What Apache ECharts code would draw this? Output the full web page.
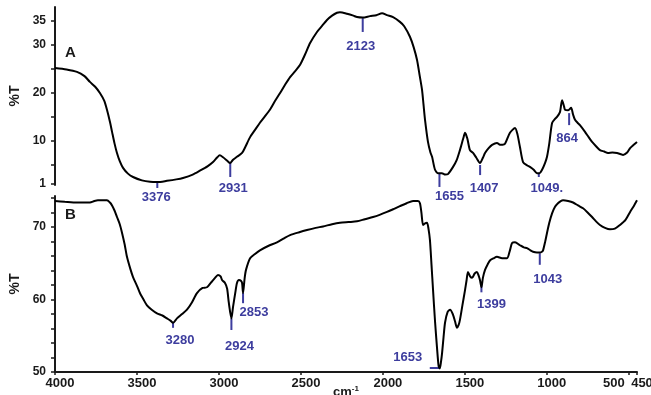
<!DOCTYPE html>
<html>
<head>
<meta charset="utf-8">
<script src="https://cdn.jsdelivr.net/npm/echarts@6/dist/echarts.min.js"></script>
<style>
  html, body { margin: 0; padding: 0; background: #fff; }
  #chart { width: 651px; height: 395px; }
</style>
</head>
<body>
<div id="chart"></div>
<script>
// Spectrum A (upper trace): wavenumber (cm-1) and %T
const wavenumbersA = [4000,3930,3866,3820,3787,3755,3726,3700,3683,3665,3652,3637,3622,3605,3585,3555,3524,3470,3420,3376,3317,3260,3219,3160,3116,3070,3036,3010,2995,2975,2950,2932,2914,2890,2859,2840,2810,2780,2750,2720,2689,2660,2627,2595,2566,2536,2506,2475,2444,2402,2370,2341,2310,2280,2262,2219,2180,2158,2123,2079,2040,2005,1975,1938,1896,1870,1835,1812,1792,1775,1761,1752,1743,1725,1710,1700,1682,1664,1640,1620,1603,1572,1550,1530,1510,1499,1485,1469,1450,1430,1408,1390,1377,1355,1334,1304,1286,1270,1255,1225,1194,1180,1164,1145,1120,1103,1080,1060,1045,1029,1010,999,985,968,950,938,920,907,895,889,870,852,840,828,810,798,767,745,724,700,676,650,627,600,572,535,510,492,470,450];
const transmittanceA = [25.2,24.9,24.4,23.5,22.3,21.3,20.0,18.4,16.5,14.0,11.9,9.5,7.5,5.8,4.4,3.2,2.5,1.8,1.5,1.45,1.7,2.0,2.3,3.0,3.8,4.7,5.6,6.6,7.0,6.6,5.9,5.4,6.1,6.7,7.5,8.7,10.8,12.3,13.8,15.1,16.5,18.2,20.0,21.8,23.3,24.5,25.8,28.0,30.4,32.7,34.0,35.2,36.1,36.7,36.8,36.5,36.1,35.8,35.7,36.0,36.2,36.6,36.2,35.8,34.8,33.9,31.7,29.5,26.9,23.5,20.6,17.5,14.4,9.8,7.6,6.7,4.0,3.3,3.3,3.0,3.1,4.6,6.0,8.1,10.5,11.7,10.5,8.1,7.5,6.5,5.4,6.5,7.5,8.5,9.2,9.6,9.2,9.2,9.4,11.7,12.7,11.5,8.75,5.6,4.9,4.6,4.0,3.3,3.3,4.0,5.5,6.7,9.5,13.75,14.6,15.0,16.0,18.5,17.2,16.5,16.4,16.9,15.5,14.4,13.7,13.3,11.9,10.8,9.8,8.9,8.1,7.8,7.5,7.6,7.5,7.1,7.6,8.5,9.2,9.8];

// Spectrum B (lower trace)
const wavenumbersB = [4000,3940,3866,3787,3760,3738,3705,3683,3665,3652,3637,3622,3605,3591,3575,3561,3540,3524,3500,3482,3460,3439,3410,3378,3345,3317,3296,3280,3256,3225,3195,3165,3134,3100,3073,3050,3024,3006,2990,2981,2963,2950,2940,2924,2914,2900,2890,2878,2866,2859,2853,2843,2835,2810,2780,2750,2700,2646,2600,2566,2510,2463,2410,2365,2310,2262,2210,2158,2110,2060,2020,1975,1935,1896,1855,1816,1786,1774,1765,1755,1745,1731,1722,1713,1704,1694,1682,1670,1660,1653,1645,1639,1630,1621,1605,1590,1572,1560,1548,1538,1530,1515,1499,1490,1481,1468,1456,1440,1426,1416,1408,1399,1390,1377,1360,1347,1325,1304,1273,1243,1225,1212,1194,1164,1140,1121,1100,1084,1060,1043,1030,1023,1010,999,985,968,950,932,915,901,870,840,810,779,750,724,700,676,645,615,585,554,520,492,470,450];
const transmittanceB = [73.6,73.5,73.4,73.4,73.6,73.7,73.7,73.7,73.4,73.0,72.3,71.4,70.4,69.2,67.6,65.9,64.2,63.1,61.9,60.9,60.0,59.2,58.6,58.1,57.8,57.4,57.1,56.8,57.4,58.0,58.6,59.6,60.9,61.6,61.7,62.3,63.0,63.4,63.2,62.7,62.3,61.5,59.6,57.4,59.0,61.0,62.3,62.7,62.6,62.3,60.9,63.0,64.1,65.7,66.3,66.8,67.4,67.9,68.5,68.9,69.3,69.6,69.9,70.1,70.4,70.6,70.7,70.8,71.1,71.4,71.7,72.1,72.5,72.9,73.3,73.6,73.6,73.3,72.0,70.3,70.5,70.6,69.8,68.2,65.0,61.3,57.0,53.4,50.8,50.5,51.5,52.6,54.8,56.8,58.3,58.6,57.9,57.0,56.1,56.5,57.2,59.2,61.3,62.6,63.8,63.2,63.0,63.6,63.8,63.3,62.7,61.7,63.0,64.1,64.9,65.4,65.7,65.9,65.7,65.7,66.8,67.8,67.9,67.5,67.2,67.1,66.8,66.6,66.5,66.5,66.6,66.8,68.0,69.2,70.6,71.9,72.8,73.3,73.6,73.7,73.6,73.4,73.0,72.6,72.0,71.4,70.8,70.3,69.9,69.7,69.8,70.3,71.0,72.1,72.9,73.7];

// Axis tick values and labels
const xLabelValues = [4000,3500,3000,2500,2000,1500,1000,500,450];
const yTicksA = [1,5,10,15,20,25,30,35];
const yLabelsA = [1,10,20,30,35];
const yTicksB = [50,52,54,56,58,60,62,64,66,68,70,72,74];
const yLabelsB = [50,60,70];

// Band assignments: wavenumber, label text, marker span in %T
const peaksA = [3376, 2931, 2123, 1655, 1407, 1049, 864];
const peakTextA = ['3376', '2931', '2123', '1655', '1407', '1049.', '864'];
const peakSpanA = [[1.46,0.21],[5.4,2.5],[35.6,32.7],[3.3,0.42],[5.0,2.9],[3.3,2.5],[15.8,13.3]];
const peaksB = [3280, 2924, 2853, 1653, 1399, 1043];
const peakTextB = ['3280', '2924', '2853', '1653', '1399', '1043'];
const peakSpanB = [[56.8,56.1],[57.4,55.8],[60.9,59.5],[50.55,50.55],[62.3,61.0],[66.4,64.8]];

// Label placement (pixel offsets from the marker end) and marker direction
const labelOffsetA = [[-1,9],[3,11],[-2,14],[10,9],[4,13],[8,11],[-2,13]];
const labelOffsetB = [[7,13],[8,16],[11,9],[-22,-11],[10,12],[8,15]];
const horizontalMarkerB = [false,false,false,true,false,false];

const INK = '#1a1a1a';
const BLUE = '#3d3d9e';
const FONT = '"Liberation Sans", Arial, sans-serif';

function zip(xs, ys) { return xs.map((x, i) => [x, ys[i]]); }

function buildPeaks(wns, texts, spans, offsets, horiz) {
  return wns.map((wn, i) => ({
    wn, text: texts[i], v1: spans[i][0], v2: spans[i][1],
    dx: offsets[i][0], dy: offsets[i][1], horizontal: horiz ? horiz[i] : false
  }));
}
const annA = buildPeaks(peaksA, peakTextA, peakSpanA, labelOffsetA);
const annB = buildPeaks(peaksB, peakTextB, peakSpanB, labelOffsetB, horizontalMarkerB);

function peakSeries(list, idx) {
  return {
    type: 'custom', xAxisIndex: idx, yAxisIndex: idx, clip: false, silent: true,
    data: list.map(a => [a.wn, a.v2]),
    renderItem: function (params, api) {
      const a = list[params.dataIndex];
      let p1, p2;
      if (a.horizontal) {
        p1 = api.coord([a.wn, a.v1]);
        p2 = [p1[0] - 10, p1[1]];
      } else {
        p1 = api.coord([a.wn, a.v1]);
        p2 = api.coord([a.wn, a.v2]);
      }
      return {
        type: 'group',
        children: [
          { type: 'line', shape: { x1: p1[0], y1: p1[1], x2: p2[0], y2: p2[1] },
            style: { stroke: BLUE, lineWidth: 2 } },
          { type: 'text', x: p2[0] + a.dx, y: p2[1] + a.dy,
            style: { text: a.text, fill: BLUE, font: 'bold 13px ' + FONT,
                     align: 'center', verticalAlign: 'middle' } }
        ]
      };
    }
  };
}

const xBase = { type: 'value', min: 450, max: 4000, inverse: true, splitLine: { show: false } };

const yCommon = {
  type: 'value',
  nameLocation: 'middle', nameGap: 25, nameRotate: 90,
  nameTextStyle: { color: INK, fontWeight: 'bold', fontSize: 14, fontFamily: FONT },
  splitLine: { show: false },
  axisLine: { show: true, lineStyle: { color: INK, width: 2 } }
};

const xLabelRich = {
  l: { color: INK, fontWeight: 'bold', fontSize: 13, fontFamily: FONT, padding: [0, 40, 0, 0] },
  r: { color: INK, fontWeight: 'bold', fontSize: 13, fontFamily: FONT, padding: [0, 0, 0, 0] }
};

const chart = echarts.init(document.getElementById('chart'), null, { renderer: 'canvas' });
chart.setOption({
  animation: false,
  backgroundColor: '#fff',
  title: [
    { text: 'A', left: 65, top: 45, padding: 0,
      textStyle: { color: INK, fontSize: 15, fontWeight: 'bold', fontFamily: FONT } },
    { text: 'B', left: 65, top: 207, padding: 0,
      textStyle: { color: INK, fontSize: 15, fontWeight: 'bold', fontFamily: FONT } }
  ],
  grid: [
    { left: 55, right: 14, top: 7, height: 178, outerBoundsMode: 'none', containLabel: false },
    { left: 55, right: 14, top: 196, height: 176, outerBoundsMode: 'none', containLabel: false }
  ],
  xAxis: [
    Object.assign({}, xBase, { gridIndex: 0, show: false }),
    Object.assign({}, xBase, {
      gridIndex: 1,
      name: 'cm{sup|-1}', nameLocation: 'middle', nameGap: 13, nameMoveOverlap: false,
      nameTextStyle: {
        color: INK, fontWeight: 'bold', fontSize: 13, fontFamily: FONT,
        rich: { sup: { fontSize: 8, fontWeight: 'bold', color: INK, fontFamily: FONT, verticalAlign: 'top', padding: [0, 0, 6, 0] } }
      },
      axisLine: { show: true, lineStyle: { color: INK, width: 2 } },
      axisTick: { show: true, length: 3, customValues: xLabelValues, lineStyle: { color: INK, width: 1.5 } },
      axisLabel: {
        customValues: xLabelValues, margin: 5,
        color: INK, fontWeight: 'bold', fontSize: 13, fontFamily: FONT,
        padding: [0, 0, 0, 10],
        formatter: v => v === 500 ? '{l|500}' : (v === 450 ? '{r|450}' : String(v)),
        rich: xLabelRich
      }
    })
  ],
  yAxis: [
    Object.assign({}, yCommon, {
      gridIndex: 0, min: 0.83, max: 37.9, name: '%T',
      axisTick: { show: true, length: 4, customValues: yTicksA, lineStyle: { color: INK, width: 1.5 } },
      axisLabel: { customValues: yLabelsA, margin: 9, color: INK, fontWeight: 'bold', fontSize: 12, fontFamily: FONT }
    }),
    Object.assign({}, yCommon, {
      gridIndex: 1, min: 50, max: 74.3, name: '%T',
      axisTick: { show: true, length: 4, customValues: yTicksB, lineStyle: { color: INK, width: 1.5 } },
      axisLabel: { customValues: yLabelsB, margin: 9, color: INK, fontWeight: 'bold', fontSize: 12, fontFamily: FONT }
    })
  ],
  series: [
    { type: 'line', xAxisIndex: 0, yAxisIndex: 0, data: zip(wavenumbersA, transmittanceA),
      showSymbol: false, smooth: 0.25, lineStyle: { color: '#000', width: 2 }, silent: true },
    { type: 'line', xAxisIndex: 1, yAxisIndex: 1, data: zip(wavenumbersB, transmittanceB),
      showSymbol: false, smooth: 0.25, lineStyle: { color: '#000', width: 2 }, silent: true },
    peakSeries(annA, 0),
    peakSeries(annB, 1)
  ]
});
</script>
</body>
</html>
